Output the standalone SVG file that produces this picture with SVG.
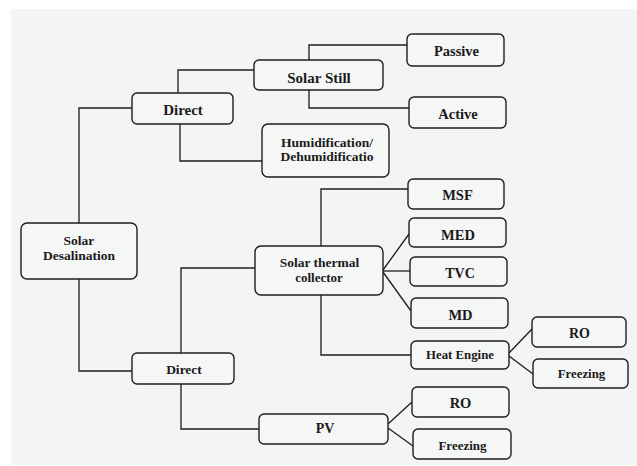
<svg xmlns="http://www.w3.org/2000/svg" width="637" height="466" viewBox="0 0 637 466">
<style>
.n{fill:#f5f6f6;stroke:#1e1e1e;stroke-width:1.4}
.t{font-family:'Liberation Serif','DejaVu Serif',serif;font-weight:bold;fill:#1a1a1a;text-anchor:middle}
.c{fill:none;stroke:#1e1e1e;stroke-width:1.3}
</style>
<rect width="637" height="466" fill="#ffffff"/>
<rect x="11" y="9" width="626" height="456" fill="#f3f4f4"/>
<g id="connectors">
<polyline class="c" points="79,223 79,108 132,108"/>
<polyline class="c" points="79,279 79,371 132,371"/>
<polyline class="c" points="178,93 178,70 254,70"/>
<polyline class="c" points="180,124 180,161 262,161"/>
<polyline class="c" points="309,60 309,45 407,45"/>
<polyline class="c" points="309,90 309,108 409,108"/>
<polyline class="c" points="181,353 181,268 255,268"/>
<polyline class="c" points="181,384 181,429 259,429"/>
<polyline class="c" points="408,189 321,189 321,355 411,355"/>
<line class="c" x1="383" y1="270" x2="409" y2="234"/>
<line class="c" x1="383" y1="271" x2="410" y2="271"/>
<line class="c" x1="383" y1="272" x2="411" y2="311"/>
<line class="c" x1="509" y1="353" x2="532" y2="329"/>
<line class="c" x1="509" y1="356" x2="533" y2="374"/>
<line class="c" x1="388" y1="424" x2="412" y2="402"/>
<line class="c" x1="388" y1="428" x2="413" y2="446"/>
</g>
<g id="solar-desalination"><rect class="n" x="21" y="223" width="116" height="56" rx="6"/><text class="t" x="79" y="245" font-size="13.5">Solar</text><text class="t" x="79" y="260" font-size="13.5">Desalination</text></g>
<g id="direct-top"><rect class="n" x="132" y="93" width="101" height="31" rx="5"/><text class="t" x="183" y="115" font-size="15">Direct</text></g>
<g id="solar-still"><rect class="n" x="254" y="60" width="129" height="30" rx="5"/><text class="t" x="319" y="83" font-size="15">Solar Still</text></g>
<g id="passive"><rect class="n" x="407" y="34" width="97" height="32" rx="5"/><text class="t" x="456.5" y="56" font-size="14.5">Passive</text></g>
<g id="active"><rect class="n" x="409" y="97" width="97" height="31" rx="5"/><text class="t" x="458" y="119" font-size="14.5">Active</text></g>
<g id="humidification"><rect class="n" x="262" y="124" width="127" height="53" rx="6"/><text class="t" x="327" y="147" font-size="12" textLength="92" lengthAdjust="spacingAndGlyphs">Humidification/</text><text class="t" x="327" y="161" font-size="12" textLength="93" lengthAdjust="spacingAndGlyphs">Dehumidificatio</text></g>
<g id="direct-bottom"><rect class="n" x="132" y="353" width="102" height="31" rx="5"/><text class="t" x="184" y="374" font-size="13.5">Direct</text></g>
<g id="solar-thermal-collector"><rect class="n" x="255" y="246" width="128" height="49" rx="6"/><text class="t" x="319.5" y="267" font-size="13.5">Solar thermal</text><text class="t" x="319" y="282" font-size="13">collector</text></g>
<g id="msf"><rect class="n" x="408" y="179" width="96" height="30" rx="5"/><text class="t" x="457.5" y="200" font-size="14.5">MSF</text></g>
<g id="med"><rect class="n" x="409" y="218" width="97" height="29" rx="5"/><text class="t" x="458" y="240" font-size="14.5">MED</text></g>
<g id="tvc"><rect class="n" x="410" y="257" width="97" height="29" rx="5"/><text class="t" x="460" y="278" font-size="14">TVC</text></g>
<g id="md"><rect class="n" x="411" y="298" width="97" height="30" rx="5"/><text class="t" x="460.5" y="320" font-size="14.5">MD</text></g>
<g id="heat-engine"><rect class="n" x="411" y="341" width="98" height="28" rx="5"/><text class="t" x="460" y="359" font-size="12.8">Heat Engine</text></g>
<g id="ro-1"><rect class="n" x="532" y="317" width="94" height="30" rx="5"/><text class="t" x="579.5" y="338" font-size="14">RO</text></g>
<g id="freezing-1"><rect class="n" x="533" y="359" width="95" height="29" rx="5"/><text class="t" x="581.5" y="378" font-size="12.8">Freezing</text></g>
<g id="pv"><rect class="n" x="259" y="414" width="129" height="30" rx="5"/><text class="t" x="325" y="433" font-size="14">PV</text></g>
<g id="ro-2"><rect class="n" x="412" y="387" width="97" height="30" rx="5"/><text class="t" x="460.5" y="408" font-size="14.5">RO</text></g>
<g id="freezing-2"><rect class="n" x="413" y="429" width="98" height="30" rx="5"/><text class="t" x="462.5" y="450" font-size="13">Freezing</text></g>
</svg>
